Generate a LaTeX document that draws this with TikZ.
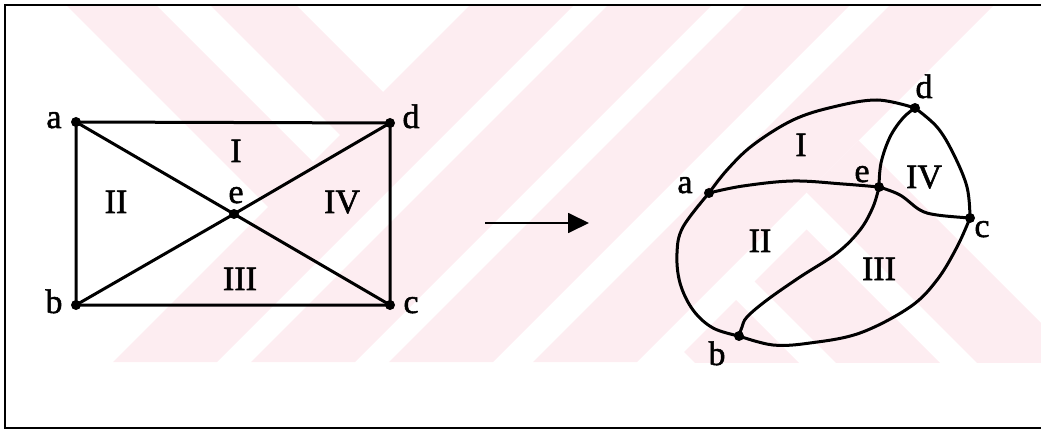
\documentclass[tikz,border=0pt]{standalone}
\usepackage{fontspec}
\setmainfont{Liberation Serif}
\newfontfamily\lblfont{Liberation Serif}[FakeBold=1.5]
\usetikzlibrary{arrows.meta}
\definecolor{wmpink}{RGB}{253,237,241}
\begin{document}
\begin{tikzpicture}[x=1pt,y=-1pt,
  edge/.style={line width=3pt, line join=round, line cap=round},
  vtx/.style={circle, fill=black, inner sep=0pt, minimum size=10pt},
  lbl/.style={font=\lblfont\fontsize{34}{36}\selectfont, inner sep=0pt, anchor=base},
  frameline/.style={line width=2pt},
  wm/.style={fill=wmpink, draw=none}]
\useasboundingbox (0,0) rectangle (1041,430);
% watermark
\begin{scope}
  \clip (5,5) rectangle (1041,362);
  \foreach \s in {475,613,751,895} {
    \fill[wm] (\s-5,5) -- (\s+99,5) -- (\s-258,362) -- (\s-362,362) -- cycle;
  }
  \fill[wm] (66,5) -- (156,5) -- (315.5,164.5) -- (270.5,209.5) -- cycle;
  \fill[wm] (210,5) -- (296,5) -- (385.5,94.5) -- (342.5,137.5) -- cycle;
  \fill[wm] (858.5,140.5) -- (806.5,192.5) -- (1500,886) -- (1500,782) -- cycle;
  \fill[wm] (806.5,229.5) -- (754.5,281.5) -- (1500,1027) -- (1500,923) -- cycle;
  \fill[wm] (736,300) -- (684,352) -- (1500,1168) -- (1500,1064) -- cycle;
\end{scope}
% frame
\coordinate (f1) at (1041,5);
\coordinate (f2) at (5,5);
\coordinate (f3) at (5,428);
\coordinate (f4) at (1041,428);
\draw[frameline] (f1) -- (f2) -- (f3) -- (f4);
% left graph
\node[vtx] (a1) at (76,122) {};
\node[vtx] (b1) at (76,305) {};
\node[vtx] (c1) at (390,305) {};
\node[vtx] (d1) at (390,123) {};
\node[vtx] (e1) at (234,214) {};
\draw[edge] (a1.center) -- (d1.center) -- (c1.center) -- (b1.center) -- cycle;
\draw[edge] (a1.center) -- (e1.center) -- (c1.center);
\draw[edge] (b1.center) -- (e1.center) -- (d1.center);
\node[lbl] (la1) at (54,128) {a};
\node[lbl] (ld1) at (411,128) {d};
\node[lbl] (lb1) at (54,313) {b};
\node[lbl] (lc1) at (411,313) {c};
\node[lbl] (le1) at (236,203) {e};
\node[lbl] (r1a) at (236,162) {I};
\node[lbl] (r2a) at (116,213) {II};
\node[lbl] (r4a) at (342,213) {IV};
\node[lbl] (r3a) at (240,290) {III};
% arrow
\coordinate (arS) at (485,223);
\coordinate (arE) at (589,223);
\draw[line width=1.8pt, -{Triangle[length=21pt,width=20pt]}] (arS) -- (arE);
% right graph
\node[vtx] (a2) at (709,193) {};
\node[vtx] (b2) at (739,336) {};
\node[vtx] (c2) at (970,218) {};
\node[vtx] (d2) at (915,108) {};
\node[vtx] (e2) at (879,187) {};
\draw[edge] plot[smooth, tension=0.6] coordinates {(a2.center) (727,170) (753,145) (793,120) (833,107) (877,100) (d2.center)};
\draw[edge] plot[smooth, tension=0.6] coordinates {(d2.center) (937,127) (953,153) (967,187) (c2.center)};
\draw[edge] plot[smooth, tension=0.6] coordinates {(c2.center) (957,247) (937,280) (910,307) (860,333) (810,343) (773,345) (b2.center)};
\draw[edge] plot[smooth, tension=0.6] coordinates {(b2.center) (713,328) (693,310) (680,283) (677,253) (683,227) (a2.center)};
\draw[edge] plot[smooth, tension=0.6] coordinates {(a2.center) (743,186) (793,181) (843,184) (e2.center)};
\draw[edge] plot[smooth, tension=0.6] coordinates {(e2.center) (881,163) (890,137) (903,118) (d2.center)};
\draw[edge] plot[smooth, tension=0.6] coordinates {(e2.center) (900,195) (920,210) (937,215) (c2.center)};
\draw[edge] plot[smooth, tension=0.6] coordinates {(e2.center) (873,207) (860,230) (837,253) (800,277) (767,300) (747,317) (742,327) (b2.center)};
\node[lbl] (la2) at (685,193) {a};
\node[lbl] (ld2) at (924,98) {d};
\node[lbl] (le2) at (862,182) {e};
\node[lbl] (lc2) at (982,237) {c};
\node[lbl] (lb2) at (717,365) {b};
\node[lbl] (r1b) at (801,156) {I};
\node[lbl] (r4b) at (924,188) {IV};
\node[lbl] (r2b) at (760,252) {II};
\node[lbl] (r3b) at (879,280) {III};
\end{tikzpicture}
\end{document}
